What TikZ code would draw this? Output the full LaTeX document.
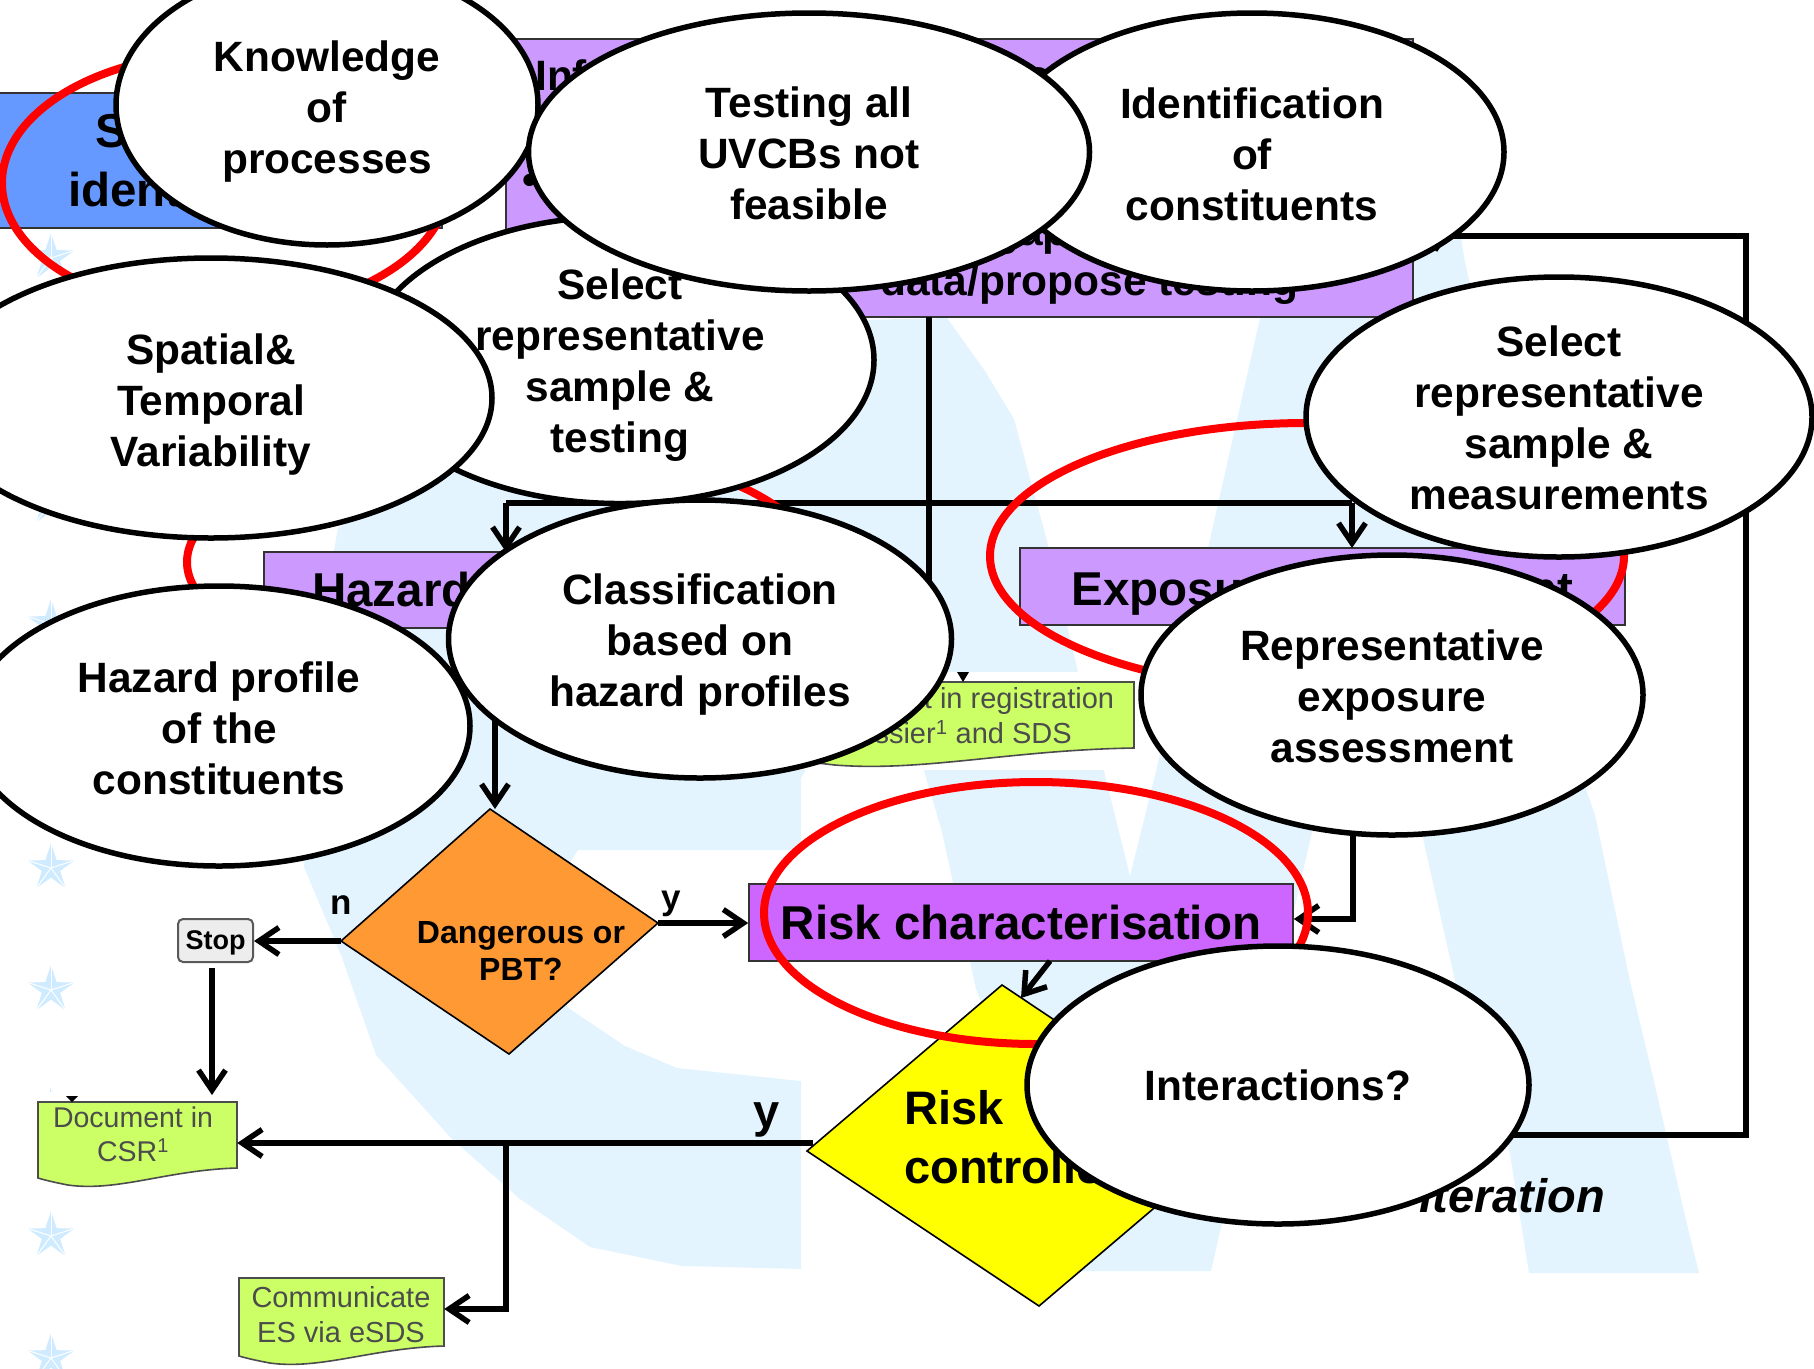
\documentclass[tikz,border=0pt]{standalone}
\usepackage{fontspec}
\setmainfont{Liberation Sans}
\usetikzlibrary{arrows.meta,shapes.geometric,positioning}
\definecolor{wmblue}{HTML}{E3F4FF}
\definecolor{starblue}{HTML}{CFEBFF}
\definecolor{lilac}{HTML}{CC99FF}
\definecolor{violet}{HTML}{CC66FF}
\definecolor{skyblue}{HTML}{6699FF}
\definecolor{leaf}{HTML}{CCFF66}
\definecolor{amber}{HTML}{FF9933}
\definecolor{lemon}{HTML}{FFFF00}
\tikzset{
  bubble/.style={ellipse,draw=black,fill=white,line width=5.5pt,inner sep=0pt,align=center,
    font=\fontsize{42.4}{51}\selectfont\bfseries},
  ring/.style={ellipse,draw=red,line width=8pt,inner sep=0pt},
  panel/.style={rectangle,draw=black!80,line width=1.6pt,inner sep=0pt,align=center,
    font=\fontsize{47.5}{59}\selectfont\bfseries},
  flow/.style={line width=5.5pt,-{Straight Barb[length=20pt,width=27pt]}},
  plainflow/.style={line width=5.5pt},
  doctext/.style={inner sep=0pt,align=center,text=black!70,font=\fontsize{28.5}{34}\selectfont},
  infotext/.style={anchor=base west,inner sep=0pt,font=\fontsize{42.5}{51}\selectfont\bfseries},
  flag/.style={inner sep=0pt,font=\fontsize{35}{37}\selectfont\bfseries},
  wmstar/.style={star,star points=5,star point ratio=2.6,fill=starblue,inner sep=0pt,minimum size=50pt}
}
\newcommand{\docpage}[4]{
  \fill[white] (#1-20,#2-10) rectangle (#3+8,#4+22);
  \filldraw[fill=leaf,draw=black!70,line width=1.6pt] (#1,#2) -- (#3,#2) -- (#3,#4)
    .. controls (#1*0.35+#3*0.65,#4+2) and (#1*0.6+#3*0.4,#4+24) .. (#1*0.85+#3*0.15,#4+17)
    .. controls (#1*0.9+#3*0.1,#4+15) and (#1*0.95+#3*0.05,#4+13) .. (#1,#4+10) -- cycle;
}
\newcommand{\push}[1]{\rule{0pt}{#1pt}}
\begin{document}
\begin{tikzpicture}[x=1pt,y=-1pt]
  \useasboundingbox (0,0) rectangle (1814,1368);

  \fill[wmblue] (801,1269) -- (682,1266) -- (590,1247) -- (520,1199) -- (451,1138) -- (376,1055)
    -- (341,955) -- (304,867) -- (325,600) -- (338,528) -- (457,462) -- (763,462) -- (821,454)
    -- (847,480) -- (868,528) -- (880,600) -- (850,700) -- (801,778) -- (801,850) -- (578,850)
    -- (545,900) -- (567,1007) -- (625,1046) -- (677,1068) -- (801,1081) -- cycle;
  \fill[wmblue] (821,454) -- (860,320) -- (947,318) -- (985,371) -- (1014,419) -- (1028,471)
    -- (1046,537) -- (1078,672) -- (1104,771) -- (1130,876) -- (1156,771) -- (1208,548)
    -- (1260,318) -- (1300,200) -- (1460,200) -- (1462,244) -- (1465,262) -- (1471,288)
    -- (1586,789) -- (1595,815) -- (1630,981) -- (1653,1077) -- (1685,1216) -- (1699,1273)
    -- (1529,1273) -- (1508,1142) -- (1456,985) -- (1422,834) -- (1370,600) -- (1312,832)
    -- (1211,1271) -- (1080,1271) -- (976,989) -- (942,832) -- (924,771) -- (868,528) -- cycle;
  \foreach \y in {258,502,624,868,990,1112,1236,1358} {
    \node[wmstar] (star\y) at (51,\y) {};
    \foreach \i in {1,...,5}
      \draw[white,line width=1pt] (star\y.center) -- (star\y.outer point \i);
  }

  \docpage{38}{1102}{237}{1168}
  \docpage{239}{1278}{444}{1346}
  \docpage{782}{682}{1134}{748}
  \fill (66,1096) -- (78,1096) -- (72,1102) -- cycle;
  \fill (957,672) -- (969,672) -- (963,682) -- cycle;
  \node[doctext] (csr) at (133,1134) {Document in\\CSR\textsuperscript{1}};
  \node[doctext,font=\fontsize{29}{35}\selectfont] (esds) at (341,1315) {Communicate\\ES via eSDS};
  \node[doctext,font=\fontsize{29}{35}\selectfont] (dossier) at (957,716) {Document in registration\\dossier\textsuperscript{1} and SDS};
  \node[minimum width=199pt,minimum height=66pt] (csrbox) at (137.5,1135) {};
  \node[minimum width=205pt,minimum height=68pt] (esdsbox) at (341.5,1312) {};
  \node[minimum width=352pt,minimum height=66pt] (dossierbox) at (958,715) {};

  \node[panel,fill=skyblue,minimum width=452pt,minimum height=135pt] (subst) at (216,160.5) {Substance\\identification};
  \node[panel,fill=lilac,minimum width=907pt,minimum height=278pt] (info) at (959.5,178) {};
  \node[infotext] (info1) at (535,90) {Information requirements};
  \node[infotext] (info2) at (522,194) {•\hspace{12pt} Collect available information};
  \node[infotext] (info3) at (522,245) {•\hspace{12pt} Assess existing data gaps};
  \node[infotext] (info4) at (880,295) {data/propose testing};
  \node[panel,fill=lilac,minimum width=540pt,minimum height=76pt] (hazard) at (534,590) {Hazard assessment};
  \node[panel,fill=lilac,minimum width=605pt,minimum height=77pt] (expo) at (1322.5,586.5) {\push{48}Exposure assessment};
  \node[panel,fill=violet,minimum width=544pt,minimum height=77pt] (riskch) at (1021,922.5) {Risk characterisation};

  \coordinate (dgtop) at (490,809);
  \coordinate (dgright) at (658,923);
  \coordinate (dgbot) at (509,1054);
  \coordinate (dgleft) at (341,941);
  \filldraw[fill=amber,draw=black,line width=1.6pt] (dgtop) -- (dgright) -- (dgbot) -- (dgleft) -- cycle;
  \node[flag,align=center,font=\fontsize{32}{37}\selectfont\bfseries] (dgtext) at (521,951) {Dangerous or\\PBT?};
  \coordinate (rctop) at (1002,985);
  \coordinate (rcright) at (1234,1140);
  \coordinate (rcbot) at (1039,1306);
  \coordinate (rcleft) at (807,1151);
  \filldraw[fill=lemon,draw=black,line width=1.6pt] (rctop) -- (rcright) -- (rcbot) -- (rcleft) -- cycle;
  \node[anchor=base west,inner sep=0pt,font=\fontsize{47}{59}\selectfont\bfseries] (rc1) at (904,1124) {Risk};
  \node[anchor=base west,inner sep=0pt,font=\fontsize{47}{59}\selectfont\bfseries] (rc2) at (904,1183) {controlled?};
  \node[anchor=base east,inner sep=0pt,font=\fontsize{47}{59}\selectfont\bfseries\itshape] (iter) at (1605,1212) {Iteration};

  \node[rectangle,rounded corners=5pt,draw=black!65,fill=black!7,line width=2pt,inner sep=0pt,
    minimum width=75pt,minimum height=43pt,font=\fontsize{27}{30}\selectfont\bfseries] (stop) at (215.5,940.5) {\push{23}Stop};

  \coordinate (infoout) at (929,317);
  \coordinate (split) at (929,503);
  \coordinate (hazin) at (506,552);
  \coordinate (expin) at (1352,548);
  \coordinate (hazout) at (495,628);
  \coordinate (stopout) at (212,968);
  \coordinate (csrin) at (212,1095);
  \coordinate (rcout) at (813,1143);
  \coordinate (branch) at (506,1143);
  \coordinate (esdsturn) at (506,1309);
  \coordinate (repout) at (1353,835);
  \coordinate (repturn) at (1353,919);
  \coordinate (iterout) at (1234,1135);
  \coordinate (iterr) at (1746,1135);
  \coordinate (iterup) at (1746,236);

  \draw[flow] (infoout) -- (infoout |- dossierbox.north);
  \draw[plainflow] (split) -- (hazin |- split);
  \draw[flow] (hazin |- split) -- (hazin);
  \draw[plainflow] (split) -- (expin |- split);
  \draw[flow] (expin |- split) -- (expin);
  \draw[flow] (hazout) -- (hazout |- dgtop);
  \draw[flow] (dgleft) -- (dgleft -| stop.east);
  \draw[flow] (dgright) -- (dgright -| riskch.west);
  \draw[flow] (stopout) -- (csrin);
  \draw[flow] (rcout) -- (rcout -| csrbox.east);
  \draw[flow] (branch) |- (esdsturn -| esdsbox.east);
  \draw[flow] (repout) |- (repturn -| riskch.east);
  \draw[flow] (1050,961) -- (1021,998);
  \draw[flow] (iterout) -- (iterr) -- (iterup) -- (iterup -| info.east);

  \node[flag] (nolabel) at (341,905) {n};
  \node[flag] (yeslabel) at (671,904) {y};
  \node[flag,font=\fontsize{47}{59}\selectfont\bfseries] (yeslabelb) at (767,1120) {y};

  \node[ring,minimum width=446pt,minimum height=260pt] (ringsubst) at (225,183) {};
  \node[ring,minimum width=626pt,minimum height=236pt] (ringhaz) at (500,562) {};
  \node[ring,minimum width=634pt,minimum height=266pt] (ringexp) at (1307,556) {};
  \node[ring,minimum width=544pt,minimum height=262pt] (ringrisk) at (1036,913) {};

  \node[bubble,minimum width=422pt,minimum height=280pt] (knowledge) at (327,105) {\push{43}Knowledge\\of\\processes};
  \node[bubble,minimum width=504pt,minimum height=278pt] (ident) at (1252,152) {\push{35}Identification\\of\\constituents};
  \node[bubble,minimum width=508pt,minimum height=274pt] (selecttest) at (620,360) {\push{41}Select\\representative\\sample \&\\testing};
  \node[bubble,minimum width=561pt,minimum height=278pt] (testing) at (809,152) {\push{33}Testing all\\UVCBs not\\feasible};
  \node[bubble,minimum width=562pt,minimum height=280pt] (spatial) at (211,398) {\push{43}Spatial\&\\Temporal\\Variability};
  \node[bubble,minimum width=502pt,minimum height=280pt] (hazprofile) at (219,726) {\push{35}Hazard profile\\of the\\constituents};
  \node[bubble,minimum width=503pt,minimum height=278pt] (classif) at (700,639) {\push{41}Classification\\based on\\hazard profiles};
  \node[bubble,minimum width=506pt,minimum height=280pt] (selectmeas) at (1559,417) {\push{33}Select\\representative\\sample \&\\measurements};
  \node[bubble,minimum width=502pt,minimum height=280pt] (repexp) at (1392,695) {\push{33}Representative\\exposure\\assessment};
  \node[bubble,minimum width=502pt,minimum height=278pt] (interact) at (1278,1085) {Interactions?};
\end{tikzpicture}
\end{document}
